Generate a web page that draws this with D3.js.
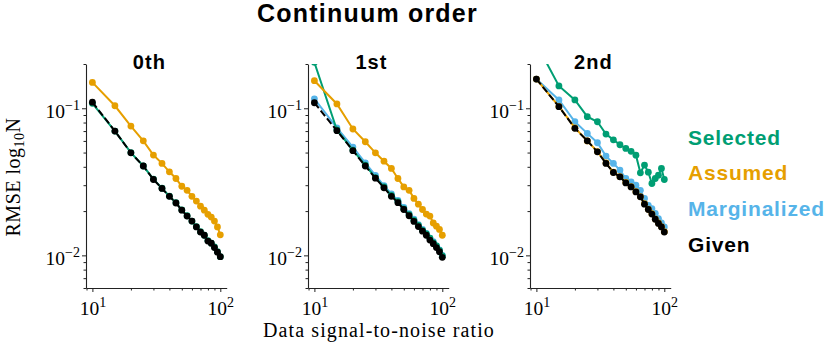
<!DOCTYPE html>
<html>
<head>
<meta charset="utf-8">
<script src="https://cdn.jsdelivr.net/npm/d3@7"></script>
<style>
  body { margin: 0; background: #fff; }
  svg { display: block; }
</style>
</head>
<body>
<div id="chart"></div>
<script>
// data signal-to-noise ratio
var snr = [10, 15, 20, 25, 30, 35, 40, 45, 50, 55, 60, 65, 70, 75, 80, 85, 90, 95, 100];

// 0th order
var selected0 = [0.108, 0.0700, 0.0500, 0.0405, 0.0330, 0.0286, 0.0253, 0.0228, 0.0204, 0.0186, 0.0171, 0.0157, 0.0145, 0.0137, 0.0126, 0.0121, 0.0114, 0.0106, 0.0098];
var assumed0  = [0.150, 0.104, 0.0757, 0.0601, 0.0481, 0.0422, 0.0370, 0.0333, 0.0295, 0.0277, 0.0252, 0.0234, 0.0216, 0.0203, 0.0190, 0.0182, 0.0171, 0.0156, 0.0138];
var given0    = [0.110, 0.0700, 0.0498, 0.0405, 0.0328, 0.0285, 0.0252, 0.0227, 0.0203, 0.0185, 0.0171, 0.0156, 0.0144, 0.0137, 0.0125, 0.0121, 0.0113, 0.0105, 0.0098];

// 1st order
var selected1     = [0.205, 0.0712, 0.0520, 0.0410, 0.0338, 0.0292, 0.0256, 0.0232, 0.0207, 0.0189, 0.0173, 0.0160, 0.0148, 0.0140, 0.0131, 0.0122, 0.0116, 0.0108, 0.0099];
var assumed1      = [0.154, 0.107, 0.0723, 0.0592, 0.0498, 0.0437, 0.0390, 0.0333, 0.0292, 0.0277, 0.0244, 0.0223, 0.0205, 0.0191, 0.0185, 0.0166, 0.0158, 0.0150, 0.0137];
var marginalized1 = [0.116, 0.0735, 0.0545, 0.0425, 0.0350, 0.0298, 0.0262, 0.0236, 0.0212, 0.0192, 0.0176, 0.0162, 0.0150, 0.0141, 0.0131, 0.0124, 0.0116, 0.0109, 0.0100];
var given1        = [0.109, 0.0704, 0.0515, 0.0405, 0.0335, 0.0288, 0.0252, 0.0228, 0.0205, 0.0186, 0.0170, 0.0157, 0.0146, 0.0137, 0.0127, 0.0120, 0.0113, 0.0106, 0.0097];

// 2nd order
var selected2     = [0.274, 0.142, 0.114, 0.0877, 0.0810, 0.0668, 0.0610, 0.0565, 0.0533, 0.0510, 0.0480, 0.0364, 0.0411, 0.0368, 0.0308, 0.0333, 0.0351, 0.0390, 0.0328];
var assumed2      = [0.158, 0.1030, 0.0735, 0.0600, 0.0508, 0.0425, 0.0368, 0.0343, 0.0313, 0.0293, 0.0271, 0.0251, 0.0225, 0.0206, 0.0192, 0.0177, 0.0166, 0.0157, 0.0145];
var marginalized2 = [0.158, 0.114, 0.0810, 0.0675, 0.0583, 0.0473, 0.0422, 0.0380, 0.0333, 0.0316, 0.0300, 0.0277, 0.0244, 0.0219, 0.0208, 0.0193, 0.0178, 0.0166, 0.0156];
var given2        = [0.158, 0.1026, 0.0731, 0.0601, 0.0506, 0.0422, 0.0366, 0.0342, 0.0311, 0.0292, 0.0270, 0.0250, 0.0223, 0.0205, 0.0191, 0.0176, 0.0165, 0.0156, 0.0144];

var orderTitles = ['0th', '1st', '2nd'];
var legendNames = ['Selected', 'Assumed', 'Marginalized', 'Given'];
var colors = { Selected: '#009E73', Assumed: '#E69F00', Marginalized: '#56B4E9', Given: '#000000' };

var panels = [
  { title: orderTitles[0], Selected: selected0, Assumed: assumed0, Marginalized: null, Given: given0 },
  { title: orderTitles[1], Selected: selected1, Assumed: assumed1, Marginalized: marginalized1, Given: given1 },
  { title: orderTitles[2], Selected: selected2, Assumed: assumed2, Marginalized: marginalized2, Given: given2 }
];
var drawOrder = ['Marginalized', 'Selected', 'Assumed', 'Given'];

var W = 830, H = 347;
var panelLeft = [86, 308, 530],
    panelTop = 64,
    pw = 140.7,
    ph = 224;

var svg = d3.select('#chart').append('svg')
    .attr('width', W)
    .attr('height', H);

var xScale = d3.scaleLog().domain([Math.pow(10, 0.95), Math.pow(10, 2.05)]).range([0, pw]);
var yScale = d3.scaleLog().domain([0.006, 0.2]).range([ph, 0]);

var xMinor = [9, 20, 30, 40, 50, 60, 70, 80, 90];
var yMinor = [0.006, 0.007, 0.008, 0.009, 0.02, 0.03, 0.04, 0.05, 0.06, 0.07, 0.08, 0.09, 0.2];

var serif = "'Liberation Serif', 'DejaVu Serif', serif";
var sans = "'Liberation Sans', Arial, Helvetica, sans-serif";

function powLabel(sel, exp) {
  sel.text(null);
  sel.append('tspan').text('10');
  sel.append('tspan').attr('dy', -7.5).attr('font-size', 14).text(exp);
}

panels.forEach(function (p, i) {
  var g = svg.append('g')
      .attr('transform', 'translate(' + panelLeft[i] + ',' + panelTop + ')');

  g.append('clipPath').attr('id', 'clip' + i)
    .append('rect').attr('x', 0).attr('y', 0).attr('width', pw).attr('height', ph);

  // minor ticks
  g.append('g')
      .attr('transform', 'translate(0,' + ph + ')')
      .call(d3.axisBottom(xScale).tickValues(xMinor).tickSize(2.5).tickFormat(''))
      .call(function (a) { a.select('.domain').remove(); });
  g.append('g')
      .call(d3.axisLeft(yScale).tickValues(yMinor).tickSize(2.5).tickFormat(''))
      .call(function (a) { a.select('.domain').remove(); });

  // major ticks + spines
  var xa = g.append('g')
      .attr('transform', 'translate(0,' + ph + ')')
      .call(d3.axisBottom(xScale).tickValues([10, 100]).tickSize(4).tickSizeOuter(0));
  xa.selectAll('text')
      .attr('font-family', serif).attr('font-size', 19.5).attr('fill', '#000')
      .attr('y', 26.5).attr('dy', 0)
      .each(function (d) { powLabel(d3.select(this), d === 10 ? '1' : '2'); });

  var ya = g.append('g')
      .call(d3.axisLeft(yScale).tickValues([0.1, 0.01]).tickSize(4).tickSizeOuter(0));
  ya.selectAll('text')
      .attr('font-family', serif).attr('font-size', 19.5).attr('fill', '#000')
      .attr('x', -6).attr('dy', 0).attr('y', 9)
      .each(function (d) { powLabel(d3.select(this), d === 0.1 ? '\u22121' : '\u22122'); });

  g.selectAll('.domain').attr('stroke', '#222').attr('stroke-width', 1.1);
  g.selectAll('.tick line').attr('stroke', '#222').attr('stroke-width', 1);

  // series
  var plot = g.append('g').attr('clip-path', 'url(#clip' + i + ')');
  drawOrder.forEach(function (name) {
    var vals = p[name];
    if (!vals) return;
    var pts = snr.map(function (s, k) { return { x: s, y: vals[k] }; });
    var line = d3.line()
        .x(function (d) { return xScale(d.x); })
        .y(function (d) { return yScale(d.y); });
    plot.append('path')
        .datum(pts)
        .attr('d', line)
        .attr('fill', 'none')
        .attr('stroke', colors[name])
        .attr('stroke-width', 2)
        .attr('stroke-dasharray', name === 'Given' ? '7,3' : null);
    plot.selectAll(null)
        .data(pts)
        .enter()
        .append('circle')
        .attr('cx', function (d) { return xScale(d.x); })
        .attr('cy', function (d) { return yScale(d.y); })
        .attr('r', 3.4)
        .attr('fill', colors[name]);
  });

  // panel title
  svg.append('text')
      .attr('x', panelLeft[i] + pw / 2 - 7)
      .attr('y', 68.5)
      .attr('text-anchor', 'middle')
      .attr('font-family', sans)
      .attr('font-weight', 'bold')
      .attr('font-size', 20)
      .attr('letter-spacing', 1)
      .text(p.title);
});

// main title
svg.append('text')
    .attr('x', 367.5)
    .attr('y', 21.7)
    .attr('text-anchor', 'middle')
    .attr('font-family', sans)
    .attr('font-weight', 'bold')
    .attr('font-size', 25)
    .attr('letter-spacing', 1.2)
    .text('Continuum order');

// axis labels
svg.append('text')
    .attr('x', 379)
    .attr('y', 336.7)
    .attr('text-anchor', 'middle')
    .attr('font-family', serif)
    .attr('font-size', 20)
    .attr('letter-spacing', 1.1)
    .text('Data signal-to-noise ratio');

var yl = svg.append('text')
    .attr('transform', 'translate(20,177) rotate(-90)')
    .attr('text-anchor', 'middle')
    .attr('font-family', serif)
    .attr('font-size', 20)
    .attr('letter-spacing', 0.5);
yl.append('tspan').text('RMSE log');
yl.append('tspan').attr('dy', 4).attr('font-size', 14).text('10');
yl.append('tspan').attr('dy', -4).text('N');

// legend
var legendY = [145, 180, 216, 252];
legendNames.forEach(function (name, k) {
  svg.append('text')
      .attr('x', 688)
      .attr('y', legendY[k])
      .attr('font-family', sans)
      .attr('font-weight', 'bold')
      .attr('font-size', 21)
      .attr('letter-spacing', 0.8)
      .attr('fill', colors[name])
      .text(name);
});
</script>
</body>
</html>
